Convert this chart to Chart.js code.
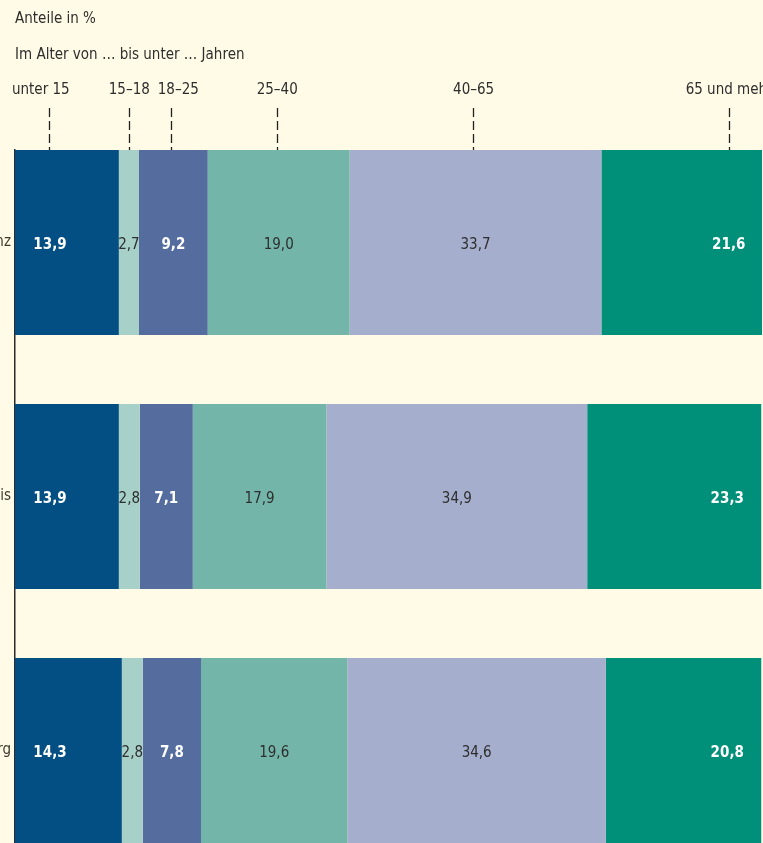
<!DOCTYPE html>
<html lang="de">
<head>
<meta charset="utf-8">
<title>Altersstruktur</title>
<script src="https://cdn.jsdelivr.net/npm/chart.js@4.4.1/dist/chart.umd.min.js"></script>
<style>
    html, body { margin: 0; padding: 0; background: #fffbe6; }
    #frame { position: relative; width: 763px; height: 843px; overflow: hidden; }
    #wrap { position: absolute; left: -120px; top: 0; width: 922px; height: 857px; }
</style>
</head>
<body>
<div id="frame"><div id="wrap"><canvas id="ageChart"></canvas></div></div>
<script>
// Regionen (links abgeschnitten wie im Original)
const regions = ["Stadt Mainz", "Landkreis", "Hamburg"];

// Altersgruppen
const groups = ["unter 15", "15–18", "18–25", "25–40", "40–65", "65 und mehr"];

// Anteile in %, je Altersgruppe für die drei Regionen
const under15 = [13.9, 13.9, 14.3];
const age15to18 = [2.7, 2.8, 2.8];
const age18to25 = [9.2, 7.1, 7.8];
const age25to40 = [19.0, 17.9, 19.6];
const age40to65 = [33.7, 34.9, 34.6];
const age65plus = [21.6, 23.3, 20.8];

// Lage der Markierungen oben (in % der Achse)
const topTickValues = [4.6, 15.3, 21.0, 35.1, 61.4, 95.6];
const topTickLabels = ["unter 15    ", "15–18", "   18–25", "25–40", "40–65", "65 und mehr"];

const seriesValues = [under15, age15to18, age18to25, age25to40, age40to65, age65plus];
const colors = ['#034f84', '#a7d1c8', '#546d9e', '#74b5a9', '#a5aecc', '#008f78'];
const darkSegments = [0, 2, 5];

const fontFamily = '"Liberation Sans Narrow", "DejaVu Sans Condensed", sans-serif';

// Zahlen in die Balken schreiben
const valueLabels = {
    id: 'valueLabels',
    afterDatasetsDraw(chart) {
        const ctx = chart.ctx;
        const last = chart.data.datasets.length - 1;
        ctx.save();
        ctx.textAlign = 'center';
        ctx.textBaseline = 'middle';
        chart.data.datasets.forEach((ds, i) => {
            const meta = chart.getDatasetMeta(i);
            const dark = darkSegments.includes(i);
            ctx.fillStyle = dark ? '#ffffff' : '#2e2e2e';
            ctx.font = (dark ? 'bold ' : '') + '15px ' + fontFamily;
            meta.data.forEach((bar, j) => {
                const p = bar.getProps(['x', 'y', 'base'], true);
                let x = (p.x + p.base) / 2;
                if (i === 0) x = p.base + 35;
                if (i === last) x = p.x - 34;
                const v = ds.data[j].x;
                ctx.fillText(v.toFixed(1).replace('.', ','), x, p.y + 3);
            });
        });
        ctx.restore();
    }
};

const ctx = document.getElementById('ageChart').getContext('2d');
new Chart(ctx, {
    type: 'bar',
    data: {
        datasets: seriesValues.map((values, i) => ({
            label: groups[i],
            data: values.map((v, j) => ({ x: v, y: j })),
            backgroundColor: colors[i],
            borderWidth: 0,
            barPercentage: 0.728,
            categoryPercentage: 1
        }))
    },
    options: {
        indexAxis: 'y',
        responsive: true,
        maintainAspectRatio: false,
        animation: false,
        layout: {
            autoPadding: false,
            padding: { top: 0, right: 40, bottom: 0, left: 0 }
        },
        scales: {
            x: {
                type: 'linear',
                stacked: true,
                min: 0,
                max: 100,
                display: false
            },
            x2: {
                type: 'linear',
                position: 'top',
                min: 0,
                max: 100,
                afterBuildTicks: scale => {
                    scale.ticks = topTickValues.map(v => ({ value: v }));
                },
                grid: {
                    drawOnChartArea: false,
                    drawTicks: true,
                    tickLength: 42,
                    tickColor: '#222222',
                    tickWidth: 1.3,
                    tickBorderDash: [9, 4]
                },
                border: { display: false },
                ticks: {
                    padding: 9,
                    color: '#2e2e2e',
                    font: { family: fontFamily, size: 15 },
                    maxRotation: 0,
                    autoSkip: false,
                    callback: (value, index) => topTickLabels[index]
                }
            },
            y: {
                type: 'linear',
                stacked: true,
                reverse: true,
                offset: false,
                min: -0.3642,
                max: 2.368,
                afterBuildTicks: scale => {
                    scale.ticks = regions.map((r, i) => ({ value: i }));
                },
                afterFit: scale => {
                    scale.width = 135;
                },
                grid: { display: false, drawTicks: false, offset: false },
                border: { display: true, color: '#2b2b2b', width: 1.5 },
                ticks: {
                    padding: 4,
                    color: '#3d3a2e',
                    font: { family: fontFamily, size: 15 },
                    callback: value => regions[value]
                }
            }
        },
        plugins: {
            legend: { display: false },
            tooltip: { enabled: false },
            title: {
                display: true,
                text: 'Anteile in %',
                align: 'start',
                fullSize: false,
                color: '#2e2e2e',
                font: { family: fontFamily, size: 15, weight: 'normal' },
                padding: { top: 10, bottom: 9 }
            },
            subtitle: {
                display: true,
                text: 'Im Alter von … bis unter … Jahren',
                align: 'start',
                fullSize: false,
                color: '#2e2e2e',
                font: { family: fontFamily, size: 15, weight: 'normal' },
                padding: { top: 9, bottom: 8 }
            }
        }
    },
    plugins: [valueLabels]
});
</script>
</body>
</html>
